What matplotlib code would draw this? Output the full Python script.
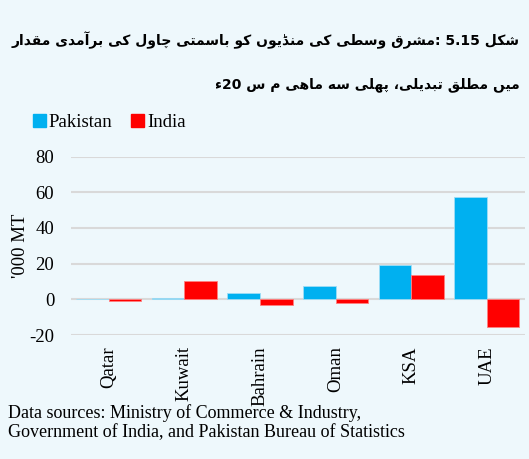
import numpy as np
import matplotlib
matplotlib.use("Agg")
import matplotlib.pyplot as plt
from matplotlib.patches import Patch

countries = ["Qatar", "Kuwait", "Bahrain", "Oman", "KSA", "UAE"]
pakistan = [0.3, 0.5, 3.5, 7.3, 19.4, 57.3]
india = [-0.7, 10.1, -3.0, -2.0, 13.7, -15.7]
yticks = [-20, 0, 20, 40, 60, 80]

title_line1 = "شکل 5.15 :مشرق وسطی کی منڈیوں کو باسمتی چاول کی برآمدی مقدار"
title_line2 = "میں مطلق تبدیلی، پہلی سہ ماہی م س 20ء"
source_note = ("Data sources: Ministry of Commerce & Industry,\n"
               "Government of India, and Pakistan Bureau of Statistics")

# contextual forms (isolated, final, initial, medial); None = does not join forward
# heh goal uses the heh glyphs for the joined forms (DejaVu has no heh goal forms)
FORMS = {
    "\u0627": ("\uFE8D", "\uFE8E", None, None),
    "\u0622": ("\uFE81", "\uFE82", None, None),
    "\u0628": ("\uFE8F", "\uFE90", "\uFE91", "\uFE92"),
    "\u067E": ("\uFB56", "\uFB57", "\uFB58", "\uFB59"),
    "\u062A": ("\uFE95", "\uFE96", "\uFE97", "\uFE98"),
    "\u0679": ("\uFB66", "\uFB67", "\uFB68", "\uFB69"),
    "\u0686": ("\uFB7A", "\uFB7B", "\uFB7C", "\uFB7D"),
    "\u062F": ("\uFEA9", "\uFEAA", None, None),
    "\u0688": ("\uFB88", "\uFB89", None, None),
    "\u0631": ("\uFEAD", "\uFEAE", None, None),
    "\u0691": ("\uFB8C", "\uFB8D", None, None),
    "\u0633": ("\uFEB1", "\uFEB2", "\uFEB3", "\uFEB4"),
    "\u0634": ("\uFEB5", "\uFEB6", "\uFEB7", "\uFEB8"),
    "\u0637": ("\uFEC1", "\uFEC2", "\uFEC3", "\uFEC4"),
    "\u0642": ("\uFED5", "\uFED6", "\uFED7", "\uFED8"),
    "\u06A9": ("\uFB8E", "\uFB8F", "\uFB90", "\uFB91"),
    "\u0644": ("\uFEDD", "\uFEDE", "\uFEDF", "\uFEE0"),
    "\u0645": ("\uFEE1", "\uFEE2", "\uFEE3", "\uFEE4"),
    "\u0646": ("\uFEE5", "\uFEE6", "\uFEE7", "\uFEE8"),
    "\u06BA": ("\uFB9E", "\uFB9F", "\uFEE7", "\uFEE8"),
    "\u0648": ("\uFEED", "\uFEEE", None, None),
    "\u06C1": ("\uFBA6", "\uFEEA", "\uFEEB", "\uFEEC"),
    "\u06CC": ("\uFBFC", "\uFBFD", "\uFBFE", "\uFBFF"),
    "\u06D2": ("\uFBAE", "\uFBAF", None, None),
}


def shape(run):
    out = []
    for i, ch in enumerate(run):
        f = FORMS.get(ch)
        if f is None:
            out.append(ch)
            continue
        prev = FORMS.get(run[i - 1]) if i > 0 else None
        nxt = FORMS.get(run[i + 1]) if i < len(run) - 1 else None
        jp = prev is not None and prev[2] is not None
        jn = nxt is not None and f[2] is not None
        if jp and jn:
            out.append(f[3])
        elif jp:
            out.append(f[1])
        elif jn:
            out.append(f[2])
        else:
            out.append(f[0])
    return "".join(out)


def rtl(line):
    # very small bidi: digits stay left-to-right, everything else right-to-left
    words = []
    for w in line.split(" "):
        runs, cur, cur_l = [], "", None
        for ch in w:
            is_l = ch.isascii() and (ch.isdigit() or ch == ".")
            if cur and is_l != cur_l:
                runs.append((cur, cur_l))
                cur = ""
            cur += ch
            cur_l = is_l
        if cur:
            runs.append((cur, cur_l))
        vis = ""
        for txt, is_l in reversed(runs):
            vis += txt if is_l else shape(txt)[::-1]
        words.append(vis)
    return " ".join(reversed(words))


bg = "#EEF8FC"
fig = plt.figure(figsize=(5.29, 4.59), dpi=100, facecolor=bg)
ax = fig.add_axes([0.134, 0.270, 0.858, 0.389], facecolor=bg)

x = np.arange(len(countries))
w = 0.43
ax.bar(x - w / 2, pakistan, w, color="#00B0F0", edgecolor="#9FDDF5", linewidth=0.6, zorder=3)
ax.bar(x + w / 2, india, w, color="#FF0000", edgecolor="#FF8080", linewidth=0.6, zorder=3)

ax.set_xlim(-0.5, len(countries) - 0.5)
ax.set_ylim(-20, 80)
ax.set_yticks(yticks)
ax.set_yticklabels([str(v) for v in yticks], family="Liberation Serif", fontsize=13.5)
ax.set_xticks(x)
ax.set_xticklabels(countries, rotation=90, family="Liberation Serif", fontsize=13.5)
ax.tick_params(length=0)
ax.tick_params(axis="y", pad=12)
ax.tick_params(axis="x", pad=8)
ax.yaxis.grid(True, color="#D9D9D9", linewidth=1.5, zorder=0)
ax.set_axisbelow(True)
for s in ax.spines.values():
    s.set_visible(False)
ax.set_ylabel("'000 MT", family="Liberation Serif", fontsize=13.5, labelpad=0)

urdu_font = ["DejaVu Sans", "Noto Sans"]
fig.text(0.983, 0.912, rtl(title_line1), ha="right", va="center",
         family=urdu_font, fontweight="bold", fontsize=10)
fig.text(0.983, 0.815, rtl(title_line2), ha="right", va="center",
         family=urdu_font, fontweight="bold", fontsize=10)

handles = [Patch(color="#00B0F0"), Patch(color="#FF0000")]
fig.legend(handles, ["Pakistan", "India"], loc="center left", bbox_to_anchor=(0.03, 0.733),
           ncol=2, frameon=False, prop={"family": "Liberation Serif", "size": 13.5},
           handlelength=0.7, handleheight=0.7, handletextpad=0.15, columnspacing=1.0)

fig.text(0.015, 0.04, source_note, ha="left", va="bottom",
         family="Liberation Serif", fontsize=13, linespacing=1.15)

fig.savefig("out.png", dpi=100, facecolor=bg)
